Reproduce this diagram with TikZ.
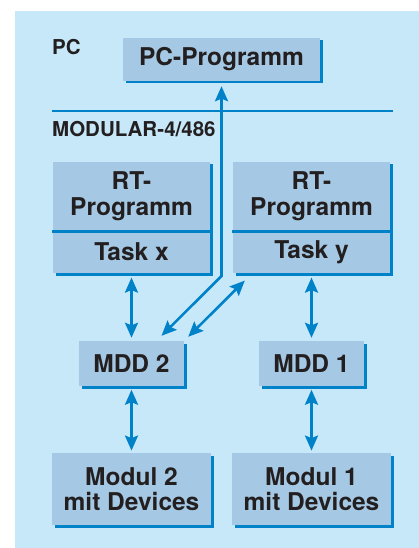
\documentclass[tikz,border=0pt]{standalone}
\usepackage{fontspec}
\setmainfont{TeX Gyre Heros}
\usetikzlibrary{positioning,shadows,arrows.meta}

\definecolor{bgblue}{RGB}{199,232,249}
\definecolor{boxblue}{RGB}{165,201,228}
\definecolor{lineblue}{RGB}{0,130,200}
\definecolor{textdark}{RGB}{35,31,32}

\tikzset{
  box/.style={fill=boxblue, text=textdark, inner sep=0pt, align=center,
    font=\bfseries\fontsize{24.5}{26}\selectfont,
    drop shadow={shadow xshift=2.5pt, shadow yshift=-2.5pt, fill=lineblue, opacity=1}},
  tag/.style={text=textdark, inner sep=0pt, font=\bfseries\fontsize{20.5}{22}\selectfont},
  bus/.style={lineblue, line width=2.7pt},
  link/.style={lineblue, line width=2.6pt, >={Stealth[length=15pt,width=13pt,inset=2.5pt]}, <->}
}

\begin{document}
\begin{tikzpicture}[x=1pt, y=-1pt]
  \useasboundingbox (0,0) rectangle (419,548);
  \fill[bgblue] (15,11) rectangle (419,548);

  % PC side
  \node[tag, anchor=base west] (PC) at (52,55) {PC};
  \node[box, minimum width=197pt, minimum height=43pt] (PCProg) at (221.5,59.5) {PC-Programm};

  \draw[bus] (52,111) -- (393,111);
  \node[tag, anchor=base west] (Modular) at (52,137) {MODULAR-4/486};

  % RT programs with their tasks
  \node[box, minimum width=157pt, minimum height=68pt] (RTx) at (131.5,196) {RT-\\Programm};
  \node[box, minimum width=157pt, minimum height=43pt, below=0pt of RTx] (TaskX) {Task x};
  \node[box, minimum width=157pt, minimum height=68pt] (RTy) at (311.5,196) {RT-\\Programm};
  \node[box, minimum width=157pt, minimum height=43pt, below=0pt of RTy] (TaskY) {Task y};
  \draw[bus] ([xshift=-1pt,yshift=-1.5pt]RTx.south west) -- ([xshift=2.5pt,yshift=-1.5pt]RTx.south east);
  \draw[bus] ([xshift=-1pt,yshift=-1.5pt]RTy.south west) -- ([xshift=2.5pt,yshift=-1.5pt]RTy.south east);

  % drivers and modules
  \node[box, minimum width=105pt, minimum height=45pt] (MDD2) at (131.5,363.5) {MDD 2};
  \node[box, minimum width=105pt, minimum height=45pt] (MDD1) at (311.5,363.5) {MDD 1};
  \node[box, minimum width=159pt, minimum height=72pt, font=\bfseries\fontsize{24.5}{25.5}\selectfont] (Modul2) at (131.5,489.3) {Modul 2\\mit Devices};
  \node[box, minimum width=159pt, minimum height=72pt, font=\bfseries\fontsize{24.5}{25.5}\selectfont] (Modul1) at (311.5,489.3) {Modul 1\\mit Devices};

  \coordinate (Bend) at (221.5,276);
  \draw[link, shorten <=5pt] (PCProg.south) -- (Bend) -- ([xshift=30pt,yshift=5pt]MDD2.north);
  \draw[link] ([xshift=12pt,yshift=-7pt]TaskY.south west) -- ([xshift=4pt,yshift=4pt]MDD2.north east);
  \draw[link, shorten <=4pt, shorten >=3pt] (TaskX) -- (MDD2);
  \draw[link, shorten <=4pt, shorten >=3pt] (TaskY) -- (MDD1);
  \draw[link, shorten <=3.5pt, shorten >=2.5pt] (MDD2) -- (Modul2);
  \draw[link, shorten <=3.5pt, shorten >=2.5pt] (MDD1) -- (Modul1);
\end{tikzpicture}
\end{document}
